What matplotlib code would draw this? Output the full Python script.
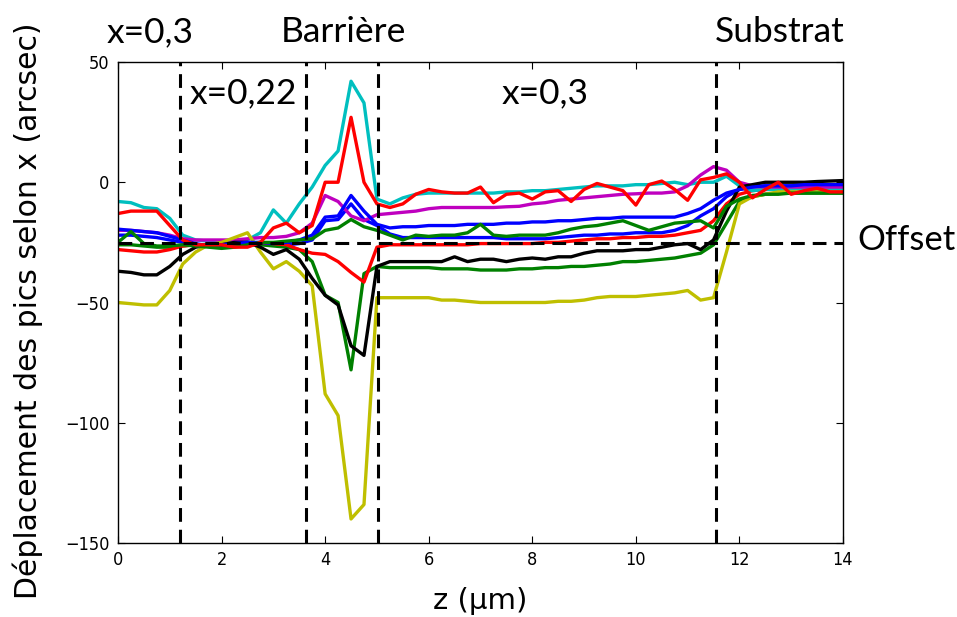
import numpy as np
import matplotlib
matplotlib.use("Agg")
import matplotlib.pyplot as plt

# ---------------- data ----------------
z = np.arange(0, 14.001, 0.25)

blue_low = [-22, -22, -22.5, -23, -24, -25, -26, -26.5, -26.5, -26, -26, -25.5, -26, -26, -25.5, -24, -16, -15.5, -9, -15.5, -18,
            -21.5, -23, -23, -23, -23, -23, -23, -23, -23, -23.5, -23.5, -23.5, -23.5, -23, -22.5, -22, -22, -21.5, -21.5, -21, -21, -21, -20, -18, -14, -11,
            -6, -3, -2, -1.5, -1.5, -1.5, -1.5, -1.5, -1.5, -1.5]
green_low = [-26, -26, -26.5, -27, -27, -26.5, -26, -26, -26, -26, -26, -26, -26.5, -27, -28, -33, -47, -50, -78, -38, -35,
             -35.5, -35.5, -35.5, -35.5, -36, -36, -36, -36.5, -36.5, -36.5, -36, -36, -35.5, -35.5, -35, -35, -34.5, -34, -33, -33, -32.5, -32, -31.5, -30.5, -29.5, -26,
             -17, -8, -6, -5, -4.5, -4.5, -4.5, -4.5, -4.5, -4.5]
red_low = [-28, -28.5, -29, -29, -28, -26.5, -26, -26, -26, -26, -25.5, -25, -25.5, -26, -28, -29.5, -30, -33, -37.5, -41.5, -27,
           -26, -26, -26, -26, -26, -26, -26, -25.5, -25.5, -25.5, -25.5, -25.5, -25, -25, -24.5, -24, -23.5, -23.5, -23, -23, -22.5, -22.5, -22, -21, -20, -16,
           -9, -5, -3.5, -3, -3, -3, -3, -3, -3, -3]
cyan = [-8, -8.5, -10.5, -11, -15, -22, -24, -24.5, -25, -25, -24, -21, -11.5, -17, -9, -2, 7, 13, 42, 33, -7,
        -9, -6.5, -5, -4.5, -4.5, -4.5, -4.5, -4.5, -4.5, -4, -4, -3.5, -3.5, -3, -2.5, -2, -1.5, -1.5, -1.5, -1, -1, -0.5, 0, -1, 0, 0,
        2.5, -1.5, -3.5, -3, -3, -3, -3, -3, -3, -3]
magenta = [-20, -20, -20.5, -21, -22, -23.5, -24, -24, -24, -24, -23.5, -23, -23, -22.5, -21, -17, -5.5, -8, -14, -16, -13.5,
           -13, -12.5, -12, -11, -10.5, -10.5, -10.5, -10.5, -10.5, -10.2, -10, -9, -8.5, -7.5, -7, -6.5, -6, -5.5, -5, -4.8, -4.5, -4.5, -4, -1.5, 3, 6.5,
           5, 0, -1.5, -2, -2, -2, -2, -2, -2, -2]
yellow = [-50, -50.5, -51, -51, -45, -34, -29, -26, -25, -23, -21, -29, -36, -33, -37, -43, -88, -97, -140, -134, -48,
          -48, -48, -48, -48, -49, -49, -49.5, -50, -50, -50, -50, -50, -50, -49.5, -49.5, -49, -48, -47.5, -47.5, -47.5, -47, -46.5, -46, -45, -49, -48,
          -29, -9, -6, -5, -4, -4, -4, -4, -4, -4]
black = [-37, -37.5, -38.5, -38.5, -35, -30, -27, -26, -26, -25, -25, -27, -30, -28, -32, -40, -47, -51, -68, -72, -35,
         -33, -33, -33, -33, -33, -31, -33, -32, -32, -33, -32, -31.5, -32, -31, -31, -29.5, -28.5, -28.5, -28.5, -28, -28, -27, -26, -25.5, -28, -24,
         -12, -2, -1, 0, 0, 0, 0, 0.3, 0.5, 0.7]
blue_up = [-19.5, -20, -20.5, -21, -22.5, -24, -25.5, -26.5, -26, -25.5, -25, -25, -25.5, -25, -24, -22, -14.5, -14, -5.5, -12, -17.5,
           -19, -18.5, -18.5, -18, -18, -18, -17.5, -17.5, -17.5, -17, -17, -16.5, -16.5, -16, -16, -15.5, -15, -15, -14.5, -14.5, -14.5, -14.5, -14.5, -13, -11, -7.5,
           -4.5, -3, -2, -1.5, -1.5, -1.5, -1, -1, -1, -1]
green_up = [-25, -20.5, -25.5, -26.5, -26.5, -26, -26.5, -27, -27.5, -27, -26, -25, -25, -24.5, -24, -23.5, -20, -19, -15.5, -18.5, -20,
            -22, -24, -22, -22.5, -22, -22, -21, -17.5, -22, -22.5, -22, -22, -22, -21, -19.5, -18.5, -18, -17, -16, -18, -20, -18.5, -17, -16.5, -16, -19,
            -10, -7, -5.5, -5, -5, -4.5, -4.5, -4.5, -4.5, -4.5]
red_up = [-13, -12, -12, -12, -18, -24, -26, -26, -26, -27, -27, -25, -19, -17, -21, -18, 0, 0, 27, 0, -9,
          -10.5, -9, -5, -3, -4, -4.5, -4.5, -2, -8.5, -5, -4.5, -7, -4, -3.5, -8, -3, -0.5, -2, -3.5, -9.5, -1, 0.5, -3, -7.5, 1, 2,
          3.5, 0, -6.5, -3, 0, -5, -3.5, -2.5, -4, -4]

series = [blue_low, green_low, red_low, cyan, magenta, yellow, black, blue_up, green_up, red_up]
colors = ['#0000ff', '#008000', '#ff0000', '#00bfbf', '#bf00bf', '#bfbf00', '#000000',
          '#0000ff', '#008000', '#ff0000']

boundaries = [1.2, 3.63, 5.02, 11.55]
offset = -25.3

# ---------------- figure ----------------
fig = plt.figure(figsize=(9.57, 6.17), dpi=100)
ax = fig.add_axes([118/957, 1-543/617, (843-118)/957, (543-62)/617])

for vals, col in zip(series, colors):
    ax.plot(z, vals, color=col, lw=2.4, solid_joinstyle='round')

dash = (0, (4.5, 2.6))
for b in boundaries:
    ax.axvline(b, color='black', lw=2.2, linestyle=dash)
ax.axhline(offset, color='black', lw=2.2, linestyle=dash)

ax.set_xlim(0, 14)
ax.set_ylim(-150, 50)
ax.set_xticks(range(0, 15, 2))
ax.set_yticks([-150, -100, -50, 0, 50])
ax.tick_params(direction='in', top=True, right=True, length=5, width=0.8,
               labelsize=13, colors='black', pad=6)
for lab in ax.get_xticklabels() + ax.get_yticklabels():
    lab.set_fontstretch('condensed')
for s in ax.spines.values():
    s.set_linewidth(1.0)

fig.text(480/957, 1-601/617, 'z (µm)', ha='center', va='center', fontsize=21)
fig.text(28/957, 1-311/617, 'Déplacement des pics selon x (arcsec)', rotation=90,
         ha='center', va='center', fontsize=21.5)

ann = dict(family='Lato', fontsize=25.5, ha='center', va='center')
fig.text(150/957, 1-32/617, 'x=0,3', **ann)
fig.text(343/957, 1-32/617, 'Barrière', **ann)
fig.text(780/957, 1-32/617, 'Substrat', **ann)
fig.text(243/957, 1-93/617, 'x=0,22', **ann)
fig.text(545/957, 1-93/617, 'x=0,3', **ann)
fig.text(857/957, 1-240/617, 'Offset', family='Lato', fontsize=25, ha='left', va='center')

fig.savefig('out.png', dpi=100)
